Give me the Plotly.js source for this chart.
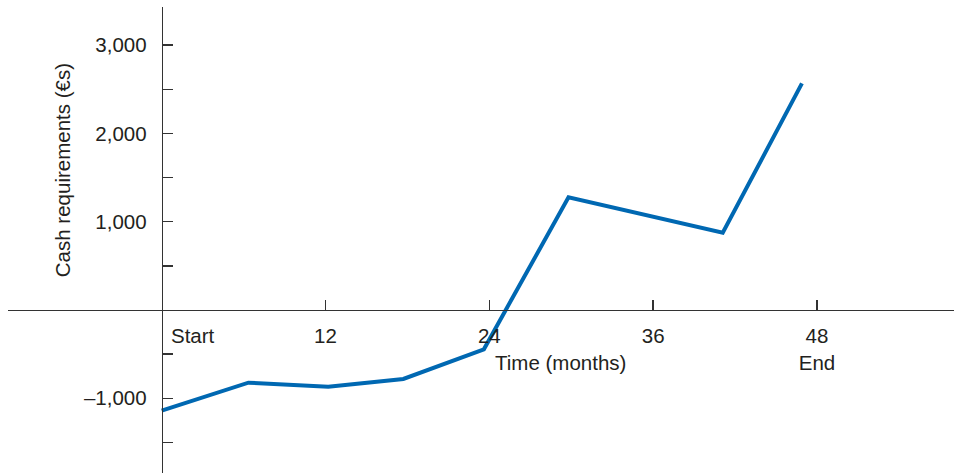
<!DOCTYPE html>
<html>
<head>
<meta charset="utf-8">
<script src="https://cdn.plot.ly/plotly-3.0.1.min.js"></script>
<style>html,body{margin:0;padding:0;background:#fff;}#chart{width:954px;height:473px;}</style>
</head>
<body>
<div id="chart"></div>
<script>
const months = [0, 6.35, 12.2, 17.7, 23.6, 29.8, 41.1, 46.9];
const cash = [-1140, -823, -868, -781, -445, 1276, 875, 2567];

const xTickVals = [12, 24, 36, 48];
const xTickText = ['12', '24', '36', '48<br>End'];
const yTickVals = [-1500, -1000, -500, 500, 1000, 1500, 2000, 2500, 3000];
const yTickText = ['', '\u20131,000', '', '', '1,000', '', '2,000', '', '3,000'];

const xTitle = 'Time (months)';
const yTitle = 'Cash requirements (\u20acs)';
const startLabel = 'Start';

const FONT = '"Liberation Sans", Arial, sans-serif';
const FS = 20.5;
const TXT = '#231f20';
const AX = '#333333';

const trace = {
  x: months, y: cash, type: 'scatter', mode: 'lines',
  line: {color: 'rgb(0,104,178)', width: 4},
  hoverinfo: 'skip'
};

const layout = {
  width: 954, height: 473,
  margin: {l: 8, r: 0, t: 7, b: 0},
  paper_bgcolor: '#fff', plot_bgcolor: '#fff',
  showlegend: false,
  font: {family: FONT, size: FS, color: TXT},
  xaxis: {
    range: [-11.26, 58.04], anchor: 'free', position: 0.3498,
    showline: true, linecolor: AX, linewidth: 1.5,
    showgrid: false, zeroline: false,
    tickmode: 'array', tickvals: xTickVals, ticktext: xTickText,
    ticks: 'inside', ticklen: 10, tickwidth: 1.5, tickcolor: AX,
    ticklabelstandoff: 7,
    tickfont: {family: FONT, size: FS, color: TXT}
  },
  yaxis: {
    range: [-1846, 3431.5], anchor: 'free', position: 0.1625,
    showline: true, linecolor: AX, linewidth: 1.5,
    showgrid: false, zeroline: false,
    tickmode: 'array', tickvals: yTickVals, ticktext: yTickText,
    ticks: 'inside', ticklen: 10, tickwidth: 1.5, tickcolor: AX,
    ticklabelstandoff: 11,
    tickfont: {family: FONT, size: FS, color: TXT}
  },
  annotations: [
    {x: 0, y: 0, xref: 'x', yref: 'y', text: startLabel, showarrow: false,
     xanchor: 'left', yanchor: 'middle', xshift: 7, yshift: -25,
     font: {family: FONT, size: FS, color: TXT}},
    {x: 29.2, y: 0, xref: 'x', yref: 'y', text: xTitle, showarrow: false,
     xanchor: 'center', yanchor: 'middle', yshift: -52,
     font: {family: FONT, size: FS, color: TXT}},
    {x: 0, y: 1580, xref: 'x', yref: 'y', text: yTitle, showarrow: false,
     textangle: -90, xanchor: 'center', yanchor: 'middle', xshift: -99,
     font: {family: FONT, size: FS, color: TXT}}
  ]
};

Plotly.newPlot('chart', [trace], layout, {staticPlot: true, displayModeBar: false});
</script>
</body>
</html>
